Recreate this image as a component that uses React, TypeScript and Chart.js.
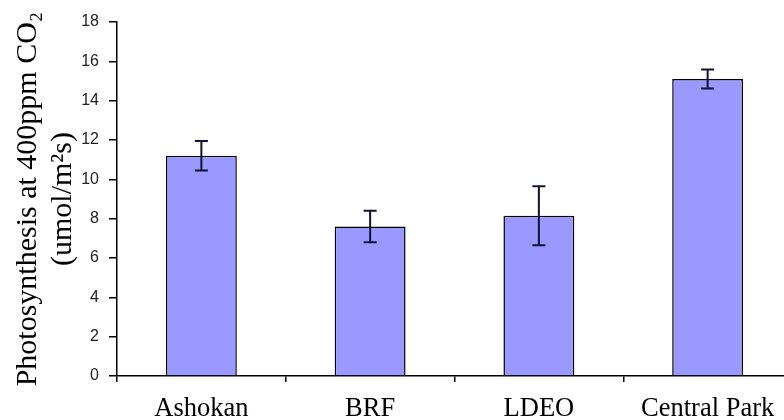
import React, { useEffect, useRef } from "react";
import { Chart, registerables } from "chart.js";

Chart.register(...registerables);

const categories = ["Ashokan", "BRF", "LDEO", "Central Park"];
const values = [11.2, 7.6, 8.15, 15.1];
const errors = [0.75, 0.8, 1.5, 0.48];
const yTitle = ["Photosynthesis at 400ppm CO\u2082", "(umol/m\u00B2s)"];

const errorBarPlugin = {
  id: "errorBars",
  afterDatasetsDraw(chart: any) {
    const ctx = chart.ctx;
    const meta = chart.getDatasetMeta(0);
    const yScale = chart.scales.y;
    ctx.save();
    ctx.strokeStyle = "#111133";
    ctx.lineWidth = 2;
    meta.data.forEach((bar: any, i: number) => {
      const x = bar.x;
      const yTop = yScale.getPixelForValue(values[i] + errors[i]);
      const yBot = yScale.getPixelForValue(values[i] - errors[i]);
      ctx.beginPath();
      ctx.moveTo(x, yTop);
      ctx.lineTo(x, yBot);
      ctx.moveTo(x - 6.5, yTop);
      ctx.lineTo(x + 6.5, yTop);
      ctx.moveTo(x - 6.5, yBot);
      ctx.lineTo(x + 6.5, yBot);
      ctx.stroke();
    });
    ctx.restore();
  },
};

export default function App() {
  const ref = useRef<HTMLCanvasElement>(null);
  useEffect(() => {
    if (!ref.current) return;
    const chart = new Chart(ref.current, {
      type: "bar",
      data: {
        labels: categories,
        datasets: [
          {
            data: values,
            backgroundColor: "#9999FF",
            borderColor: "#000000",
            borderWidth: 1.5,
            barPercentage: 0.42,
            categoryPercentage: 1,
          },
        ],
      },
      options: {
        animation: false,
        responsive: false,
        maintainAspectRatio: false,
        layout: { padding: { top: 22, right: 0, left: 0, bottom: 0 } },
        plugins: { legend: { display: false }, tooltip: { enabled: false } },
        scales: {
          x: {
            offset: true,
            grid: {
              offset: true,
              drawOnChartArea: false,
              drawTicks: true,
              tickLength: 6,
              color: "#000",
              lineWidth: 1.5,
            },
            border: { color: "#000", width: 1.5 },
            ticks: {
              color: "#000",
              padding: 11,
              font: { family: "'Liberation Serif', serif", size: 26.5 },
            },
            afterFit(scale: any) {
              scale.height = 44;
            },
          },
          y: {
            min: 0,
            max: 18,
            ticks: {
              stepSize: 2,
              color: "#222",
              padding: 10,
              font: { family: "'Liberation Sans Narrow', 'Liberation Sans', Arial, sans-serif", size: 16 },
            },
            grid: {
              drawOnChartArea: false,
              drawTicks: true,
              tickLength: 8,
              color: "#000",
              lineWidth: 1.5,
            },
            border: { color: "#000", width: 1.5 },
            title: {
              display: true,
              text: yTitle,
              color: "#000",
              font: { family: "'Liberation Serif', serif", size: 30, lineHeight: 1.15 },
              padding: { top: 11, bottom: 0 },
            },
            afterFit(scale: any) {
              scale.width = 117;
            },
          },
        },
      },
      plugins: [errorBarPlugin],
    });
    return () => chart.destroy();
  }, []);
  return (
    <div
      style={{
        position: "fixed",
        left: 0,
        top: 0,
        width: 784,
        height: 420,
        overflow: "hidden",
        background: "#fff",
      }}
    >
      <canvas ref={ref} width={792} height={420} style={{ display: "block" }} />
    </div>
  );
}
